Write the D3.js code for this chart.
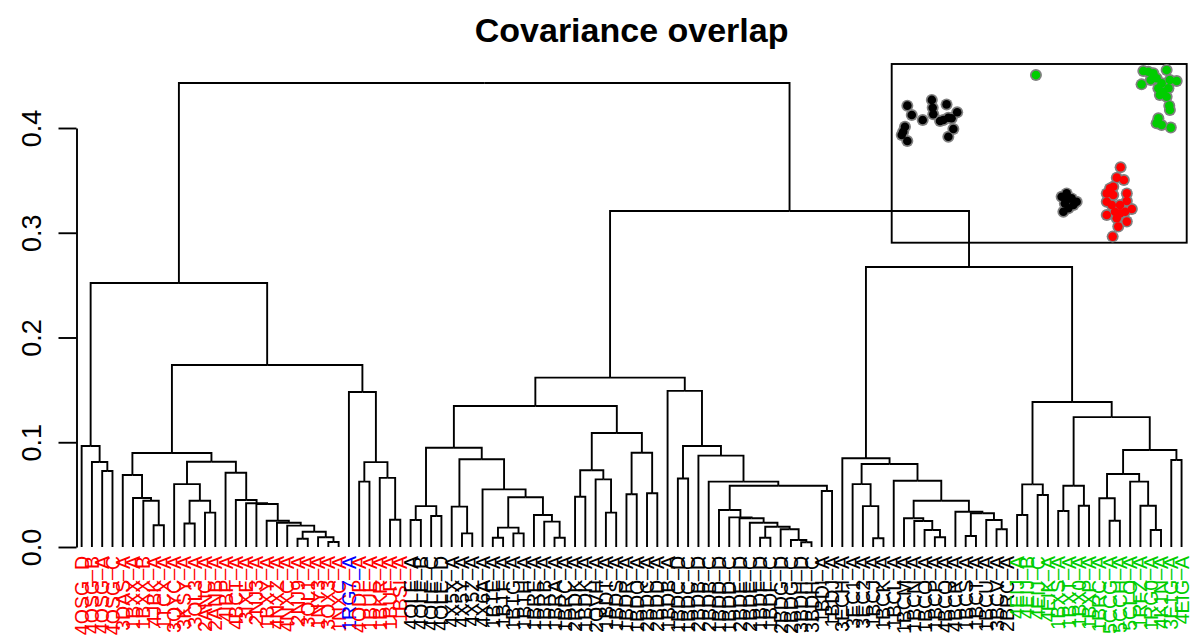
<!DOCTYPE html>
<html><head><meta charset="utf-8">
<script src="https://cdn.jsdelivr.net/npm/d3@7"></script>
<style>body{margin:0;background:#fff}svg{display:block;font-family:"Liberation Sans",Arial,Helvetica,sans-serif}</style>
</head><body>
<svg id="chart" width="1191" height="637"></svg>
<script>
// ---------------- data ----------------
const chartTitle = "Covariance overlap";
const yTickValues = [0, 0.1, 0.2, 0.3, 0.4];
const yTickLabels = ["0.0", "0.1", "0.2", "0.3", "0.4"];

// leaf labels, left to right, by colour group
const redLabelsA = ["4OSG_D","4OSG_B","4OSG_A","4OSG_C","3DAS_A","1BXX_A","1BXX_B","4JBK_A","1TCX_A","3QYC_A","3KSY_A","3QL3_A","2ANC_A","2ANB_A","4IBP_A","4BCT_A","3IXE_A","2NJ3_A","1BXY_A","4NXZ_A","4NXC_A","2NJ9_A","3QL1_A","1NY3_A","3OX3_A","1NXC_A"];
const blueLabels = ["1RG7_A"];
const redLabelsB = ["4ODP_A","1BUE_A","1BKR_A","1BUF_A","1BSI_A"];
const blackLabels = ["4OLE_A","4OLE_B","4OLE_C","4OLE_D","4X5X_A","4X5Y_A","4X5Z_A","4X6A_A","1BTE_A","1BTF_A","1BTG_A","1BTH_A","1BRE_A","1BRB_A","1BRA_A","1BRC_A",
  "2RDK_A","1BDK_A","2QVH_A","1BDT_A","1BDS_A","1BDR_A","1BDQ_A","2BDC_A","2BDD_A",
  "1BDB_A","1BDC_D","1BDC_C","2BDB_D","2BDB_C","1BDD_D","1BDD_C","2BDE_D","2BDE_C","1BDF_D","1BDF_C","2BDG_D","2BDG_C","3BDH_D","3BDH_C","1BDI_A","1BDJ_A",
  "3ECH_A","3EC1_A","3EC2_A","1BCJ_A","1BCK_A","1BCL_A","1BCM_A","1BCN_A","1BCO_A","1BCP_A","4BCQ_A","4BCR_A","1BCS_A","1BCT_A","1BCU_A","3BCV_A","2BRC_A"];
const greenLabels = ["4EIJ_A","4EIJ_B","4EIJ_C","4EIK_A","1BXS_A","1BXT_A","1BX0_A","1BXP_A","1BRC_A","5CCG_A","5CCH_A","5CLO_A","1RFZ_A","1RG0_A","4K1N_A","3E1G_A","4EIG_A"];

const groupColors = {red: "#ff0000", blue: "#0000ff", black: "#000000", green: "#00cd00"};

// hclust-style merges: negative = leaf (1-based), positive = earlier merge (1-based)
const merges = [
 [-3,-4],[-2,1],[-1,2],
 [-8,-9],[-7,4],[-6,5],[-5,6],
 [-11,-12],[-13,-14],[8,9],[-10,10],
 [-25,-26],[-24,12],[-22,-23],[14,13],[-21,15],[-20,16],[-19,17],[-18,18],[-17,19],[-16,20],[-15,21],
 [11,22],[7,23],
 [-28,-29],[-31,-32],[-30,26],[25,27],[-27,28],
 [24,29],[3,30],
 [-33,-34],[-35,-36],[32,33],[-38,-39],[-37,35],[-41,-42],[-43,-44],[37,38],[-47,-48],[-46,40],[-45,41],[39,42],[-40,43],[36,44],[34,45],
 [-49,-50],[-52,-53],[-51,48],[47,49],[-54,-55],[-56,-57],[51,52],[50,53],[46,54],
 [-59,-60],[-71,-72],[-70,57],[-69,58],[-67,-68],[60,59],[-66,61],[-65,62],[-64,63],[-63,64],[-73,-74],[65,66],[-62,67],[-61,68],[56,69],[-58,70],[55,71],
 [-78,-79],[-77,73],[-76,74],[-84,-85],[-83,76],[-82,77],[-81,78],[-87,-88],[-90,-91],[-89,81],[80,82],[-86,83],[79,84],[-80,85],[75,86],[-75,87],
 [-92,-93],[-94,-95],[89,90],[-96,-97],[-98,-99],[92,93],[-101,-102],[-100,95],[-105,-106],[-104,97],[-103,98],[96,99],[-107,-108],[100,101],[94,102],[91,103],
 [88,104],[72,105],[31,106]
];
const mergeHeights = [
 0.0726,0.0811,0.0964,
 0.0207,0.0442,0.0468,0.0687,
 0.0225,0.0328,0.0442,0.0600,
 0.0048,0.0093,0.0079,0.0146,0.0204,0.0232,0.0251,0.0410,0.0417,0.0449,0.0709,
 0.0814,0.0897,
 0.0624,0.0260,0.0660,0.0810,0.1480,
 0.1737,0.2520,
 0.0258,0.0296,0.0390,0.0130,0.0385,0.0089,0.0130,0.0185,0.0089,0.0242,0.0305,0.0475,0.0550,0.0837,0.0948,
 0.0480,0.0328,0.0646,0.0733,0.0503,0.0513,0.0900,0.1088,0.1346,
 0.0654,0.0045,0.0067,0.0169,0.0089,0.0194,0.0232,0.0274,0.0283,0.0353,0.0535,0.0585,0.0624,0.0872,0.0964,0.1490,0.1617,
 0.0083,0.0390,0.0600,0.0093,0.0162,0.0248,0.0274,0.0105,0.0169,0.0258,0.0322,0.0337,0.0442,0.0633,0.0792,0.0847,
 0.0305,0.0496,0.0598,0.0344,0.0394,0.0585,0.0251,0.0465,0.0162,0.0394,0.0624,0.0697,0.0830,0.0926,0.1240,0.1384,
 0.2673,0.3208,0.4430
];

// inset scatter (two components, arbitrary 0-100 units)
const insetBlack = [[5.3,76.7],[6.8,71.5],[10.5,68.7],[13.6,79.9],[13.9,75.5],[14.1,71.9],[16.4,68.1],[18.6,77.4],[19.2,69.9],[22.2,73.0],[20.9,63.6],[19.2,59.3],[3.9,62.1],[4.5,64.9],[5.3,56.9],[3.4,60.3],[17.5,68.7],[20.3,69.6],
  [57.6,25.7],[59.3,27.6],[61.0,24.8],[62.7,22.9],[58.7,22.0],[59.9,19.3],[58.2,17.3],[61.6,21.1],[59.3,23.9]];
const insetRed = [[77.6,42.2],[76.3,36.4],[78.7,35.1],[74.0,30.4],[75.1,31.3],[72.9,27.6],[75.1,26.7],[79.7,27.6],[79.7,23.3],[72.9,22.9],[74.6,21.1],[77.4,21.1],[81.4,18.9],[79.1,17.3],[72.9,15.5],[76.3,13.7],[79.7,11.8],[76.8,9.0],[74.9,3.4],[77.4,16.4],[75.7,17.3]];
const insetGreen = [[48.9,93.8],[85.3,96.1],[87.0,95.7],[88.7,94.8],[93.2,96.6],[84.7,88.6],[87.8,91.0],[89.8,92.0],[91.5,89.2],[94.3,91.0],[96.6,90.5],[90.4,86.4],[92.1,84.5],[93.8,86.4],[90.9,82.7],[93.2,81.7],[94.1,76.7],[94.3,74.3],[90.4,69.6],[91.5,65.9],[94.6,64.4],[89.8,66.8]];

// ---------------- build tree ----------------
const leaves = [];
[[redLabelsA,"red"],[blueLabels,"blue"],[redLabelsB,"red"],[blackLabels,"black"],[greenLabels,"green"]]
  .forEach(([arr,g]) => arr.forEach(l => leaves.push({name:l, group:g, h:0})));
const mnodes = [];
merges.forEach((m,i) => {
  const pick = k => k < 0 ? leaves[-k-1] : mnodes[k-1];
  mnodes.push({children:[pick(m[0]), pick(m[1])], h: mergeHeights[i]});
});
const rootData = mnodes[mnodes.length-1];
const root = d3.hierarchy(rootData);

// ---------------- layout ----------------
const svg = d3.select("#chart");
const plotLeft = 76.5, plotRight = 1186.7;
d3.cluster().size([plotRight - plotLeft, 1]).separation(() => 1)(root);
root.each(d => d.x += plotLeft);

const y = d3.scaleLinear().domain([0, 0.4]).range([547, 128]);

// links
svg.append("g").attr("fill","none").attr("stroke","#000").attr("stroke-width",1.9)
  .selectAll("path").data(root.descendants().filter(d => d.parent))
  .join("path")
  .attr("d", d => `M${d.x},${y(d.data.h)}V${y(d.parent.data.h)}H${d.parent.x}`);

// leaf labels
svg.append("g").selectAll("text").data(root.leaves()).join("text")
  .attr("transform", d => `translate(${d.x},556) rotate(-90)`)
  .attr("dy","0.36em").attr("text-anchor","end")
  .attr("font-size",19.5).attr("fill", d => groupColors[d.data.group])
  .text(d => d.data.name);

// y axis
const axis = d3.axisLeft(y).tickValues(yTickValues).tickSize(18).tickSizeOuter(0)
  .tickFormat((d,i) => yTickLabels[i]);
const ag = svg.append("g").attr("transform",`translate(${plotLeft},0)`).call(axis);
ag.select(".domain").attr("stroke-width",1.9);
ag.selectAll(".tick line").attr("stroke-width",1.9);
ag.selectAll(".tick text").attr("x",0).attr("dy",0)
  .attr("transform","translate(-36,0) rotate(-90)").attr("text-anchor","middle")
  .attr("font-size",27).attr("fill","#000")
  .attr("font-family",'"Liberation Sans",Arial,sans-serif');

// title
svg.append("text").attr("x",(plotLeft+plotRight)/2).attr("y",42).attr("text-anchor","middle")
  .attr("font-size",34).attr("font-weight","bold").text(chartTitle);

// inset
const ix = d3.scaleLinear().domain([0,100]).range([891.7,1186.7]);
const iy = d3.scaleLinear().domain([0,100]).range([242.7,64]);
svg.append("rect").attr("x",ix(0)).attr("y",iy(100)).attr("width",ix(100)-ix(0)).attr("height",iy(0)-iy(100))
  .attr("fill","none").attr("stroke","#000").attr("stroke-width",1.9);
const pts = [].concat(insetBlack.map(p=>[p,"#000000"]), insetRed.map(p=>[p,"#ff0000"]), insetGreen.map(p=>[p,"#00cd00"]));
const ig = svg.append("g");
ig.selectAll("circle.o").data(pts).join("circle").attr("class","o")
  .attr("cx",d=>ix(d[0][0])).attr("cy",d=>iy(d[0][1])).attr("r",6).attr("fill","#808080");
ig.selectAll("circle.i").data(pts).join("circle").attr("class","i")
  .attr("cx",d=>ix(d[0][0])).attr("cy",d=>iy(d[0][1])).attr("r",4.3).attr("fill",d=>d[1]);
</script>
</body></html>
